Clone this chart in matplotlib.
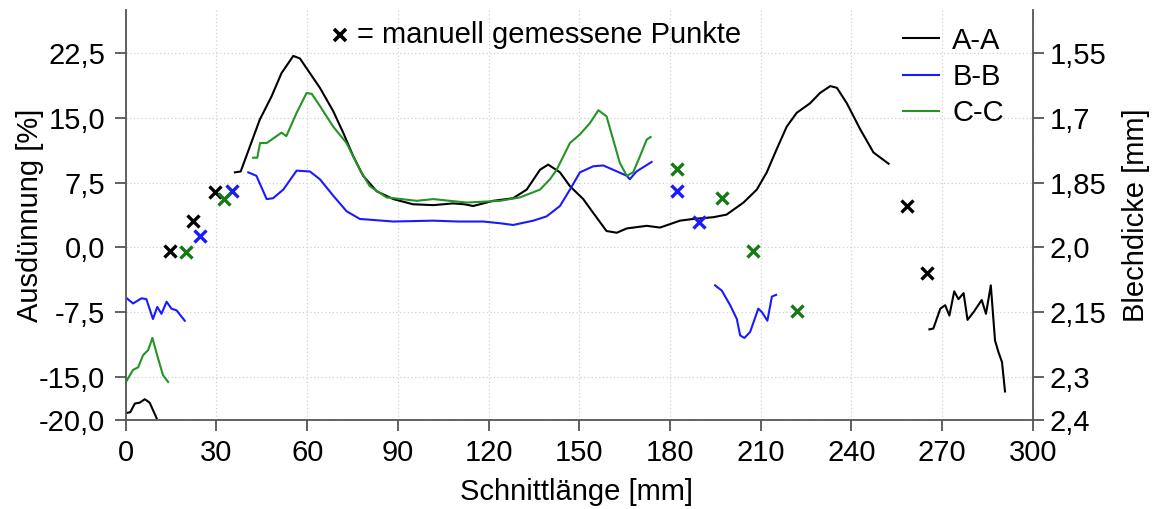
"""Ausdünnung / Blechdicke entlang der Schnittlänge (A-A, B-B, C-C)."""

import matplotlib
matplotlib.use('Agg')
import matplotlib.pyplot as plt
from matplotlib.ticker import FixedLocator, FuncFormatter

plt.rcParams['font.family'] = ['Liberation Sans', 'DejaVu Sans']

T0 = 2.0  # Ausgangsblechdicke [mm]

# --- gemessene Verläufe (Schnittlänge [mm], Ausdünnung [%]) ---
aa_x = [36.1, 38.0, 39.9, 44.3, 48.2, 51.5, 55.4, 57.6, 60.9, 64.2, 68.6, 71.9, 75.2, 78.5,
        83.0, 88.5, 95.0, 101.7, 108.3, 112.0, 114.9, 121.5, 128.1, 132.6, 137.0, 139.7,
        143.6, 146.9, 151.3, 154.6, 159.0, 162.4, 165.7, 172.3, 176.7, 183.3, 187.7, 194.3,
        198.7, 204.3, 208.7, 212.0, 215.3, 218.6, 221.9, 226.3, 229.6, 233.0, 235.2, 238.5,
        242.9, 247.3, 252.3]
aa_y = [8.7, 8.8, 10.6, 14.8, 17.5, 20.2, 22.2, 21.9, 20.2, 18.5, 15.8, 13.3, 10.6, 8.3,
        6.5, 5.6, 5.0, 4.9, 5.1, 5.0, 4.8, 5.4, 5.7, 6.7, 9.0, 9.6,
        8.7, 7.1, 5.6, 4.0, 1.9, 1.7, 2.2, 2.5, 2.3, 3.1, 3.3, 3.5,
        3.8, 5.2, 6.7, 8.7, 11.4, 14.0, 15.6, 16.7, 17.9, 18.7, 18.5, 16.7,
        13.7, 11.0, 9.7]
aa_left_x = [0.2, 1.5, 3.0, 4.6, 6.3, 7.9, 10.2]
aa_left_y = [-19.2, -19.1, -18.1, -18.0, -17.6, -18.0, -19.8]
aa_right_x = [265.8, 267.1, 269.4, 271.0, 272.4, 274.0, 275.4, 277.1, 278.4, 280.4, 283.1,
              284.5, 286.1, 287.5, 288.6, 289.8, 290.8]
aa_right_y = [-9.5, -9.4, -7.1, -6.7, -7.9, -5.1, -6.0, -5.3, -8.4, -7.5, -6.1,
              -7.7, -4.4, -10.8, -12.1, -13.3, -16.7]

bb_x = [40.5, 43.2, 46.6, 48.7, 52.1, 56.5, 60.9, 64.2, 68.6, 73.0, 77.4, 88.5, 101.7,
        110.0, 118.2, 123.8, 128.1, 134.8, 139.2, 143.6, 146.9, 150.2, 154.6, 157.9,
        161.2, 165.7, 166.7, 168.9, 173.9]
bb_y = [8.7, 8.3, 5.6, 5.7, 6.7, 8.9, 8.8, 7.9, 6.0, 4.2, 3.3, 3.0, 3.1,
        3.0, 3.0, 2.8, 2.6, 3.1, 3.6, 4.8, 6.7, 8.7, 9.4, 9.5,
        9.0, 8.3, 7.9, 8.8, 9.9]
bb_left_x = [0.0, 2.4, 5.2, 6.8, 9.0, 10.4, 11.8, 13.5, 15.1, 16.8, 19.5]
bb_left_y = [-5.8, -6.5, -5.9, -6.0, -8.3, -6.9, -7.7, -6.3, -7.1, -7.3, -8.5]
bb_right_x = [194.9, 197.1, 199.9, 202.1, 203.2, 204.6, 206.5, 209.2, 210.4, 212.2, 213.7, 215.1]
bb_right_y = [-4.4, -5.0, -6.7, -8.3, -10.2, -10.5, -9.8, -7.1, -7.5, -8.5, -5.7, -5.5]

cc_x = [42.1, 43.5, 44.4, 46.6, 51.5, 53.1, 56.5, 59.8, 61.5, 64.2, 68.6, 73.0, 77.4,
        80.7, 86.2, 96.2, 101.7, 112.7, 123.8, 130.4, 137.0, 140.3, 142.5, 146.9,
        150.2, 153.5, 156.3, 159.0, 161.2, 163.4, 165.7, 167.8, 170.1, 172.3, 173.6]
cc_y = [10.4, 10.4, 12.1, 12.1, 13.3, 12.9, 15.6, 17.9, 17.8, 16.4, 14.0, 12.1, 9.0,
        7.1, 5.8, 5.4, 5.6, 5.2, 5.4, 5.8, 6.7, 7.9, 9.0, 12.1,
        13.1, 14.4, 15.9, 15.2, 12.5, 9.8, 8.3, 8.7, 10.6, 12.5, 12.8]
cc_left_x = [0.2, 2.4, 4.1, 5.7, 7.4, 8.8, 10.7, 12.3, 14.0]
cc_left_y = [-15.5, -14.2, -13.9, -12.5, -11.9, -10.5, -12.9, -14.8, -15.6]

# --- manuell gemessene Punkte ---
pts_aa_x = [14.6, 22.3, 29.5, 258.3, 265.0]
pts_aa_y = [-0.4, 3.1, 6.4, 4.8, -3.0]
pts_bb_x = [24.5, 35.0, 182.2, 189.7]
pts_bb_y = [1.3, 6.5, 6.5, 3.0]
pts_cc_x = [19.9, 32.4, 182.2, 197.3, 207.4, 221.9]
pts_cc_y = [-0.5, 5.6, 9.1, 5.7, -0.4, -7.4]

x_ticks = [0, 30, 60, 90, 120, 150, 180, 210, 240, 270, 300]
y_ticks = [-20.0, -15.0, -7.5, 0.0, 7.5, 15.0, 22.5]
t_ticks = [1.55, 1.7, 1.85, 2.0, 2.15, 2.3, 2.4]
t_labels = ['1,55', '1,7', '1,85', '2,0', '2,15', '2,3', '2,4']

BLACK = '#000000'
BLUE = '#1a1aff'
GREEN = '#259325'
GREEN_PT = '#157a15'
AXIS = '#555555'
FS = 21


def main() -> None:
    fig = plt.figure(figsize=(11.54, 5.09), dpi=100)
    ax = fig.add_axes([0.109, 0.175, 0.786, 0.805])

    lw = 1.5
    ax.plot(aa_x, aa_y, color=BLACK, lw=lw, label='A-A')
    ax.plot(aa_left_x, aa_left_y, color=BLACK, lw=lw)
    ax.plot(aa_right_x, aa_right_y, color=BLACK, lw=lw)
    ax.plot(bb_x, bb_y, color=BLUE, lw=lw, label='B-B')
    ax.plot(bb_left_x, bb_left_y, color=BLUE, lw=lw)
    ax.plot(bb_right_x, bb_right_y, color=BLUE, lw=lw)
    ax.plot(cc_x, cc_y, color=GREEN, lw=lw, label='C-C')
    ax.plot(cc_left_x, cc_left_y, color=GREEN, lw=lw)

    mk = dict(marker='x', ls='none', ms=9, mew=2.4)
    ax.plot(pts_aa_x, pts_aa_y, color=BLACK, **mk)
    ax.plot(pts_bb_x, pts_bb_y, color=BLUE, **mk)
    ax.plot(pts_cc_x, pts_cc_y, color=GREEN_PT, **mk)

    ax.set_xlim(0, 300)
    ax.set_ylim(-20, 27.5)
    ax.xaxis.set_major_locator(FixedLocator(x_ticks))
    ax.yaxis.set_major_locator(FixedLocator(y_ticks))
    ax.yaxis.set_major_formatter(FuncFormatter(lambda v, _: f'{v:.1f}'.replace('.', ',')))
    ax.grid(True, color='#d0d0d0', linestyle=(0, (1, 2)), lw=0.9)
    ax.set_axisbelow(True)

    for side in ('top', 'right'):
        ax.spines[side].set_visible(False)
    for side in ('left', 'bottom'):
        ax.spines[side].set_color(AXIS)
        ax.spines[side].set_linewidth(1.3)
    ax.tick_params(direction='out', length=8, width=1.3, color=AXIS, labelsize=FS, pad=7)
    ax.tick_params(axis='x', pad=6)

    ax.set_xlabel('Schnittlänge [mm]', fontsize=FS, va='center')
    ax.xaxis.set_label_coords(0.497, -0.176)
    ax.set_ylabel('Ausdünnung [%]', fontsize=FS, va='center')
    ax.yaxis.set_label_coords(-0.106, 0.5)

    # Blechdicke: t = T0 * (1 - Ausdünnung/100)
    ax2 = ax.twinx()
    y0, y1 = ax.get_ylim()
    ax2.set_ylim(T0 * (1 - y0 / 100), T0 * (1 - y1 / 100))
    ax2.yaxis.set_major_locator(FixedLocator(t_ticks))
    ax2.set_yticklabels(t_labels)
    for side in ('top', 'left', 'bottom'):
        ax2.spines[side].set_visible(False)
    ax2.spines['right'].set_color(AXIS)
    ax2.spines['right'].set_linewidth(1.3)
    ax2.tick_params(direction='out', length=8, width=1.3, color=AXIS, labelsize=FS, pad=4)
    ax2.set_ylabel('Blechdicke [mm]', fontsize=FS, va='center')
    ax2.yaxis.set_label_coords(1.114, 0.5)

    ax.legend(loc='upper right', bbox_to_anchor=(0.968, 0.96), frameon=False, fontsize=FS,
              handlelength=1.25, handletextpad=0.45, labelspacing=0.28, borderaxespad=0,
              borderpad=0)

    ax.plot([0.236], [0.939], transform=ax.transAxes, color=BLACK, marker='x', ms=9, mew=2.6,
            ls='none', clip_on=False)
    ax.text(0.255, 0.939, '= manuell gemessene Punkte', transform=ax.transAxes,
            fontsize=FS, va='center', ha='left')

    fig.savefig('out.png', dpi=100)
    plt.close(fig)


if __name__ == '__main__':
    main()
